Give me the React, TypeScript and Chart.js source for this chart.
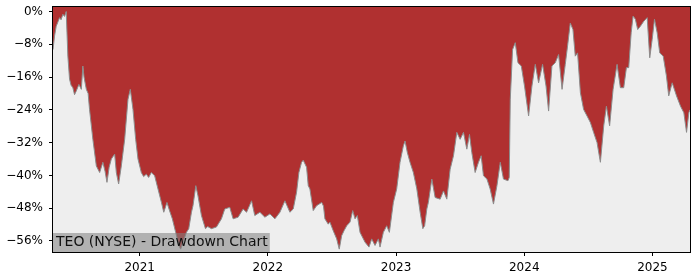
import { useEffect, useRef } from "react";
import { Chart, registerables } from "chart.js";

Chart.register(...registerables);

// decimal years
const dates = [
  2020.324, 2020.336, 2020.349, 2020.363, 2020.375, 2020.387, 2020.401, 2020.414, 2020.427, 2020.44,
  2020.453, 2020.465, 2020.479, 2020.492, 2020.504, 2020.526, 2020.545, 2020.557, 2020.566, 2020.584,
  2020.598, 2020.609, 2020.635, 2020.662, 2020.688, 2020.713, 2020.73, 2020.745, 2020.762, 2020.779,
  2020.805, 2020.818, 2020.836, 2020.857, 2020.883, 2020.909, 2020.927, 2020.948, 2020.969, 2020.987,
  2021.013, 2021.031, 2021.052, 2021.07, 2021.091, 2021.117, 2021.143, 2021.17, 2021.188, 2021.213,
  2021.234, 2021.255, 2021.281, 2021.307, 2021.32, 2021.336, 2021.365, 2021.383, 2021.404, 2021.416,
  2021.438, 2021.455, 2021.482, 2021.513, 2021.531, 2021.56, 2021.599, 2021.638, 2021.664, 2021.703,
  2021.729, 2021.768, 2021.807, 2021.834, 2021.873, 2021.898, 2021.938, 2021.977, 2022.016, 2022.055,
  2022.094, 2022.133, 2022.172, 2022.198, 2022.224, 2022.242, 2022.263, 2022.276, 2022.302, 2022.315,
  2022.328, 2022.354, 2022.38, 2022.42, 2022.434, 2022.445, 2022.471, 2022.484, 2022.51, 2022.537,
  2022.557, 2022.576, 2022.594, 2022.615, 2022.641, 2022.662, 2022.68, 2022.698, 2022.719, 2022.758,
  2022.789, 2022.81, 2022.836, 2022.862, 2022.875, 2022.901, 2022.927, 2022.948, 2022.979, 2023.005,
  2023.031, 2023.057, 2023.07, 2023.088, 2023.109, 2023.135, 2023.162, 2023.188, 2023.209, 2023.223,
  2023.24, 2023.252, 2023.279, 2023.305, 2023.344, 2023.37, 2023.396, 2023.422, 2023.448, 2023.474,
  2023.5, 2023.526, 2023.552, 2023.573, 2023.591, 2023.617, 2023.643, 2023.664, 2023.682, 2023.709,
  2023.734, 2023.76, 2023.787, 2023.813, 2023.838, 2023.873, 2023.883, 2023.891, 2023.909, 2023.93,
  2023.951, 2023.977, 2024.002, 2024.034, 2024.06, 2024.086, 2024.112, 2024.143, 2024.17, 2024.19,
  2024.216, 2024.242, 2024.268, 2024.295, 2024.32, 2024.338, 2024.359, 2024.38, 2024.398, 2024.416,
  2024.438, 2024.463, 2024.49, 2024.516, 2024.541, 2024.568, 2024.594, 2024.62, 2024.641, 2024.666,
  2024.693, 2024.724, 2024.75, 2024.776, 2024.797, 2024.815, 2024.834, 2024.849, 2024.867, 2024.885,
  2024.906, 2024.932, 2024.959, 2024.979, 2024.998, 2025.016, 2025.037, 2025.057, 2025.084, 2025.109,
  2025.127, 2025.154, 2025.188, 2025.219, 2025.245, 2025.266, 2025.284, 2025.293,
];

// drawdown in percent
const drawdown = [
  -9.3, -6.0, -3.6, -2.5, -1.5, -2.0, -0.7, -1.2, 0.0, -10.9,
  -16.5, -18.0, -18.6, -20.3, -19.5, -17.8, -19.0, -13.3, -16.0, -19.0,
  -20.0, -23.9, -31.2, -37.7, -39.3, -36.8, -39.0, -41.7, -38.0, -36.0,
  -34.8, -39.3, -42.1, -37.7, -31.2, -21.4, -19.0, -23.9, -31.2, -36.0,
  -39.3, -40.3, -39.7, -40.5, -39.3, -40.1, -43.3, -46.6, -49.0, -46.6,
  -48.7, -50.6, -53.9, -57.2, -58.0, -56.5, -53.9, -53.0, -49.0, -47.4,
  -42.5, -45.0, -49.8, -53.0, -52.5, -53.0, -52.6, -50.6, -48.2, -47.8,
  -50.6, -50.2, -48.2, -49.0, -46.2, -49.8, -49.0, -50.2, -49.4, -50.6,
  -49.0, -46.2, -49.0, -48.2, -44.1, -39.3, -36.8, -36.3, -38.0, -42.5,
  -43.3, -48.6, -47.4, -46.6, -47.5, -50.6, -51.9, -51.4, -53.5, -55.5,
  -58.0, -54.7, -53.5, -52.3, -51.4, -48.6, -50.6, -49.8, -53.9, -56.3,
  -57.5, -55.5, -57.1, -55.5, -57.5, -53.9, -52.3, -53.9, -46.6, -43.3,
  -36.8, -32.8, -31.6, -34.4, -36.8, -39.3, -43.3, -49.0, -53.0, -52.3,
  -48.2, -46.6, -40.9, -45.4, -45.8, -43.8, -45.8, -38.5, -35.2, -29.5,
  -31.2, -29.5, -33.6, -30.0, -34.4, -39.3, -36.8, -35.2, -40.1, -40.9,
  -43.3, -47.0, -42.5, -36.8, -40.9, -41.3, -40.5, -21.4, -9.3, -7.6,
  -12.5, -13.3, -18.2, -25.5, -18.2, -12.9, -17.4, -12.9, -18.2, -24.3,
  -13.3, -12.5, -10.5, -19.0, -12.9, -8.4, -2.8, -4.4, -10.9, -10.1,
  -19.8, -23.9, -25.5, -27.1, -29.5, -32.0, -36.8, -27.9, -23.1, -27.9,
  -19.0, -12.9, -18.6, -18.6, -13.7, -13.7, -5.2, -1.1, -1.9, -4.4,
  -3.6, -2.4, -1.5, -11.3, -6.8, -1.9, -5.2, -10.1, -10.9, -15.7,
  -20.6, -17.4, -20.6, -23.1, -24.7, -29.5, -24.7, -24.0,
];

const xTicks = [2021, 2022, 2023, 2024, 2025];
const yTicks = [-56, -48, -40, -32, -24, -16, -8, 0];
const yMin = -58.7;
const yMax = 1.1;
const labelText = "TEO (NYSE) - Drawdown Chart";

const FONT = "'DejaVu Sans', sans-serif";

export default function App() {
  const ref = useRef<HTMLCanvasElement>(null);

  useEffect(() => {
    document.body.style.margin = "0";
    const canvas = ref.current;
    if (!canvas) return;

    const framePlugin = {
      id: "frame",
      beforeDraw(chart: any) {
        const { ctx, chartArea: a } = chart;
        ctx.save();
        ctx.fillStyle = "#eeeeee";
        ctx.fillRect(a.left, a.top, a.right - a.left, a.bottom - a.top);
        ctx.restore();
      },
      afterDatasetsDraw(chart: any) {
        const { ctx, chartArea: a } = chart;
        ctx.save();
        ctx.font = `14px ${FONT}`;
        const w = ctx.measureText(labelText).width;
        const top = a.bottom - 19;
        ctx.fillStyle = "rgba(128,128,128,0.56)";
        ctx.fillRect(a.left, top, w + 5, a.bottom - top);
        ctx.fillStyle = "#111111";
        ctx.textBaseline = "alphabetic";
        ctx.textAlign = "left";
        ctx.fillText(labelText, a.left + 3, a.bottom - 6.5);
        ctx.restore();
      },
      afterDraw(chart: any) {
        const { ctx, chartArea: a } = chart;
        ctx.save();
        ctx.strokeStyle = "#000000";
        ctx.lineWidth = 1;
        ctx.strokeRect(
          Math.round(a.left) - 0.5,
          Math.round(a.top) - 0.5,
          Math.round(a.right - a.left) + 1,
          Math.round(a.bottom - a.top) + 1
        );
        ctx.restore();
      },
    };

    const chart = new Chart(canvas, {
      type: "line",
      data: {
        datasets: [
          {
            data: dates.map((d, i) => ({ x: d, y: drawdown[i] })),
            borderColor: "#8c8c8c",
            borderWidth: 1,
            backgroundColor: "#b03030",
            fill: "end",
            pointRadius: 0,
            tension: 0,
          },
        ],
      },
      options: {
        animation: false,
        responsive: false,
        maintainAspectRatio: false,
        layout: { padding: { top: 7, right: 10, left: 0, bottom: 0 } },
        plugins: {
          legend: { display: false },
          tooltip: { enabled: false },
        },
        scales: {
          x: {
            type: "linear",
            min: dates[0],
            max: dates[dates.length - 1],
            afterBuildTicks: (s: any) => {
              s.ticks = xTicks.map((v) => ({ value: v }));
            },
            afterFit: (s: any) => {
              s.height = 28;
              s.paddingLeft = 0;
              s.paddingRight = 0;
            },
            ticks: {
              autoSkip: false,
              maxRotation: 0,
              padding: 5,
              color: "#000000",
              font: { family: FONT, size: 12 },
              callback: (v: any) => String(v),
            },
            grid: { drawOnChartArea: false, tickLength: 4, color: "#000000" },
            border: { display: false },
          },
          y: {
            type: "linear",
            min: yMin,
            max: yMax,
            afterBuildTicks: (s: any) => {
              s.ticks = yTicks.map((v) => ({ value: v }));
            },
            afterFit: (s: any) => {
              s.width = 53;
              s.paddingTop = 0;
              s.paddingBottom = 0;
            },
            ticks: {
              autoSkip: false,
              padding: 6,
              color: "#000000",
              font: { family: FONT, size: 12 },
              callback: (v: any) => (v < 0 ? "\u2212" + Math.abs(v) : String(v)) + "%",
            },
            grid: { drawOnChartArea: false, tickLength: 4, color: "#000000" },
            border: { display: false },
          },
        },
      },
      plugins: [framePlugin],
    });

    return () => chart.destroy();
  }, []);

  return (
    <div style={{ width: 700, height: 280 }}>
      <canvas ref={ref} width={700} height={280} style={{ width: 700, height: 280 }} />
    </div>
  );
}
